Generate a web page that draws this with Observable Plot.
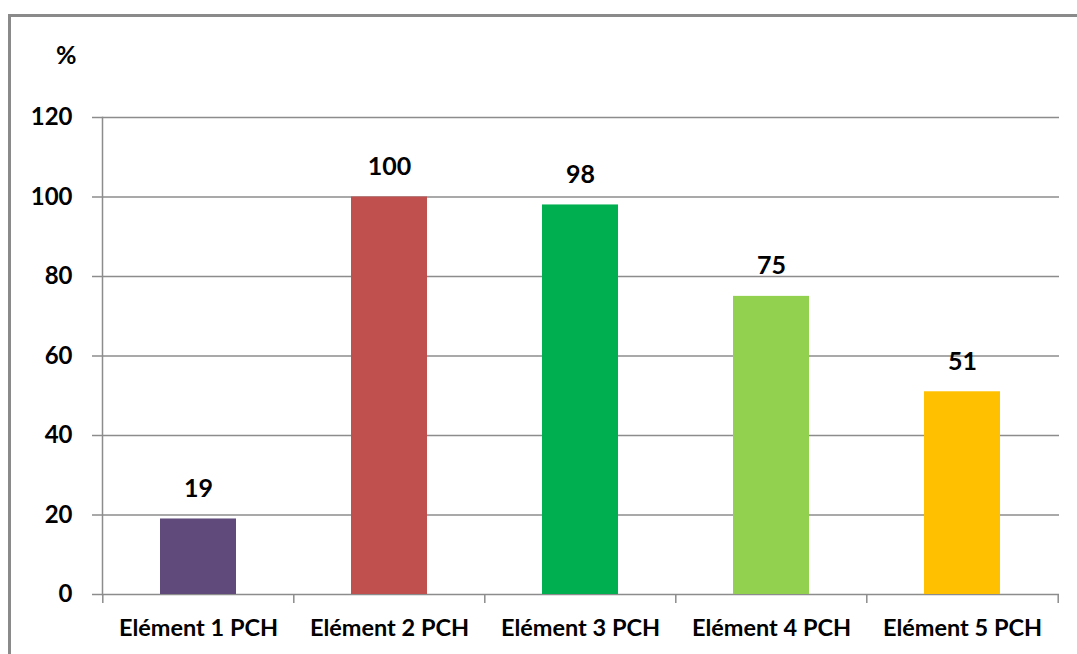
<!DOCTYPE html>
<html>
<head>
<meta charset="utf-8">
<script src="https://cdn.jsdelivr.net/npm/d3@7"></script>
<script src="https://cdn.jsdelivr.net/npm/@observablehq/plot@0.6"></script>
<style>
  html, body { margin: 0; padding: 0; background: #fff; overflow: hidden; width: 1077px; height: 654px; }
  #wrap { position: relative; width: 1077px; height: 654px; }
  #border { position: absolute; left: 8px; top: 14px; width: 1200px; height: 800px; border-left: 3px solid #8a8a8a; border-top: 3px solid #8a8a8a; box-sizing: border-box; }
  #unit { position: absolute; left: 56px; top: 39px; font: bold 25px Lato, "Liberation Sans", sans-serif; color: #000; }
  #chart { position: absolute; left: 0; top: 0; }
</style>
</head>
<body>
<div id="wrap">
  <div id="border"></div>
  <div id="chart"></div>
  <div id="unit">%</div>
</div>
<script>
const categories = ["Elément 1 PCH", "Elément 2 PCH", "Elément 3 PCH", "Elément 4 PCH", "Elément 5 PCH"];
const values = [19, 100, 98, 75, 51];
const colors = ["#604A7B", "#C0504D", "#00B050", "#92D050", "#FFC000"];
const yTicks = [0, 20, 40, 60, 80, 100, 120];

const data = categories.map((c, i) => ({category: c, value: values[i], color: colors[i]}));

const W = 1077, H = 654;
const mL = 102, mR = 18, mT = 117, mB = 60;
const half = (W - mL - mR) / categories.length / 2;
const font = "Lato, 'Liberation Sans', sans-serif";

const chart = Plot.plot({
  width: W,
  height: H,
  marginLeft: mL,
  marginRight: mR,
  marginTop: mT,
  marginBottom: mB,
  style: {fontFamily: font, fontWeight: "bold", fontSize: "24px", color: "#000", background: "transparent", overflow: "visible"},
  x: {domain: categories, paddingInner: 0.6, paddingOuter: 0.3},
  y: {domain: [0, 120]},
  marks: [
    Plot.gridY(yTicks, {stroke: "#8c8c8c", strokeOpacity: 1, strokeWidth: 1.5}),
    Plot.frame({anchor: "left", stroke: "#8c8c8c", strokeWidth: 1.5}),
    Plot.axisY(yTicks, {tickSize: 10, tickPadding: 20, label: null, stroke: "#8c8c8c", strokeWidth: 1.5, fill: "#000", fontSize: 24, fontWeight: "bold"}),
    Plot.axisX({tickSize: 0, tickPadding: 25, label: null, fill: "#000", fontSize: 23.5, fontWeight: "bold"}),
    Plot.ruleX(categories, {x: d => d, y1: 0, y2: 0, insetBottom: -9, dx: -half, stroke: "#8c8c8c", strokeWidth: 1.5}),
    Plot.ruleX(categories.slice(-1), {x: d => d, y1: 0, y2: 0, insetBottom: -9, dx: half, stroke: "#8c8c8c", strokeWidth: 1.5}),
    Plot.barY(data, {x: "category", y: "value", fill: "color"}),
    Plot.text(data, {x: "category", y: "value", text: d => String(d.value), lineAnchor: "bottom", dy: -22, fill: "#000", fontSize: 25, fontWeight: "bold"})
  ]
});
document.getElementById("chart").appendChild(chart);
</script>
</body>
</html>
